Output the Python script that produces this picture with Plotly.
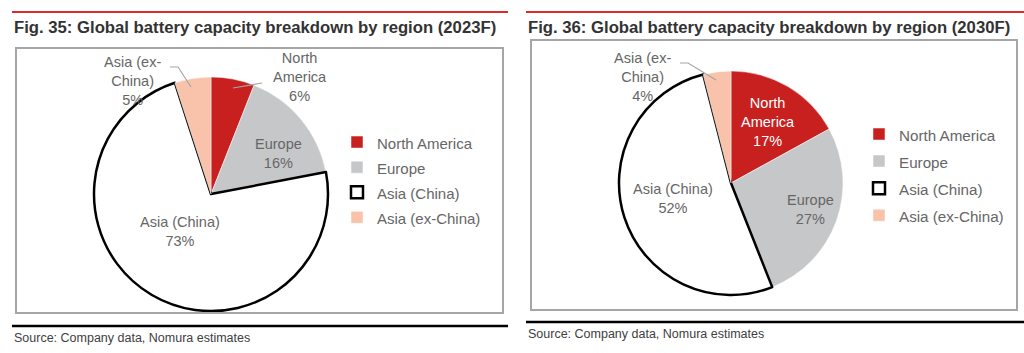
import plotly.graph_objects as go

# ---------------- data ----------------
categories = ["North America", "Europe", "Asia (China)", "Asia (ex-China)"]
label_lines = ["North<br>America", "Europe", "Asia (China)", "Asia (ex-<br>China)"]
share_2023 = [6, 16, 73, 5]
share_2030 = [17, 27, 52, 4]
titles = ["Fig. 35: Global battery capacity breakdown by region (2023F)",
          "Fig. 36: Global battery capacity breakdown by region (2030F)"]
source_text = "Source: Company data, Nomura estimates"

# ---------------- style ----------------
W, H = 1024, 353
slice_colors = ["#C8201F", "#C6C7C9", "#FFFFFF", "#F8C3AA"]
line_colors = ["#FFFFFF", "#FFFFFF", "#000000", "#FFFFFF"]
line_widths = [0.5, 0.5, 2.5, 0.5]
TXT = "#666666"
FONT = "Arial, Liberation Sans, sans-serif"


def px(x):
    return x / W


def py(y):
    return 1 - y / H


def legend_labels(size):
    return [f"<span style='font-size:{size}px'>{c}</span>" for c in categories]


fig = go.Figure()

panels = [
    dict(vals=share_2023, cx=211, cy=194, r=117, legend="legend", leg_size=15,
         label_pos=[(300, 77), (278, 153), (180, 231), (132, 81)],
         label_col=[TXT, TXT, TXT, TXT]),
    dict(vals=share_2030, cx=731, cy=183, r=112, legend="legend2", leg_size=15.2,
         label_pos=[(768, 122), (810, 209), (673, 199), (642, 77)],
         label_col=["#FFFFFF", TXT, TXT, TXT]),
]

for p in panels:
    fig.add_trace(go.Pie(
        labels=legend_labels(p["leg_size"]), values=p["vals"], sort=False,
        direction="clockwise", rotation=0,
        marker=dict(colors=slice_colors,
                    line=dict(color=line_colors, width=line_widths)),
        textinfo="none", legend=p["legend"],
        domain=dict(x=[px(p["cx"] - p["r"]), px(p["cx"] + p["r"])],
                    y=[py(p["cy"] + p["r"]), py(p["cy"] - p["r"])]),
        hovertext=categories, hoverinfo="text+percent",
    ))
    for (lx, ly), lbl, v, col in zip(p["label_pos"], label_lines, p["vals"], p["label_col"]):
        fig.add_annotation(x=px(lx), y=py(ly), xref="paper", yref="paper",
                           text=f"{lbl}<br>{v}%", showarrow=False,
                           xanchor="center", yanchor="middle", align="center",
                           font=dict(family=FONT, size=14.5, color=col))

shapes = []
# panel decorations: red top rule, frame box, black bottom rule
for x0, x1, fx0, fx1, fy0, fy1, by in [(12, 508, 16, 503, 48, 313, 326),
                                       (526, 1024, 531, 1017, 40, 310, 322)]:
    shapes.append(dict(type="line", xref="paper", yref="paper",
                       x0=px(x0), x1=px(x1), y0=py(12), y1=py(12),
                       line=dict(color="#E02A2A", width=2)))
    shapes.append(dict(type="rect", xref="paper", yref="paper",
                       x0=px(fx0), x1=px(fx1), y0=py(fy1), y1=py(fy0),
                       line=dict(color="#A6A6A6", width=2)))
    shapes.append(dict(type="line", xref="paper", yref="paper",
                       x0=px(x0), x1=px(x1), y0=py(by), y1=py(by),
                       line=dict(color="#000000", width=2.5)))

# leader lines for outside labels
for pts in [[(233, 88), (262, 83)],
            [(170, 67), (178, 67), (191, 87)],
            [(680, 63), (688, 63), (716, 80)]]:
    path = "M " + " L ".join(f"{px(a)},{py(b)}" for a, b in pts)
    shapes.append(dict(type="path", xref="paper", yref="paper", path=path,
                       line=dict(color="#A6A6A6", width=1.2)))

# titles and sources
for tx, title, sy in [(12, titles[0], 338), (526, titles[1], 334)]:
    fig.add_annotation(x=px(tx), y=py(27), xref="paper", yref="paper",
                       text=f"<b>{title}</b>", showarrow=False,
                       xanchor="left", yanchor="middle",
                       font=dict(family=FONT, size=16.7, color="#333333"))
    fig.add_annotation(x=px(tx), y=py(sy), xref="paper", yref="paper",
                       text=source_text, showarrow=False,
                       xanchor="left", yanchor="middle",
                       font=dict(family=FONT, size=12.5, color="#404040"))

leg_common = dict(xanchor="left", yanchor="top", bgcolor="rgba(0,0,0,0)",
                  borderwidth=0, itemwidth=30, traceorder="normal")
fig.update_layout(
    width=W, height=H,
    margin=dict(l=0, r=0, t=0, b=0),
    paper_bgcolor="white", plot_bgcolor="white",
    shapes=shapes,
    showlegend=True,
    legend=dict(x=px(337), y=py(124.5), font=dict(family=FONT, size=17, color=TXT), **leg_common),
    legend2=dict(x=px(859), y=py(115.5), font=dict(family=FONT, size=18.5, color=TXT), **leg_common),
)

fig.write_html("out.html")
